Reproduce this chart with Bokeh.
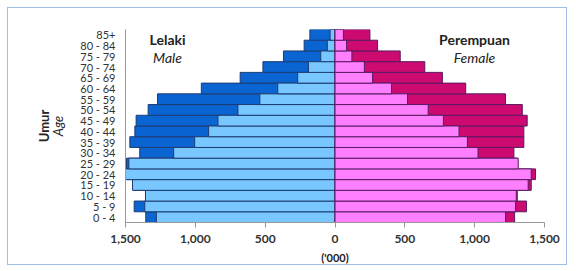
from bokeh.plotting import figure
from bokeh.models import ColumnDataSource, Label, FixedTicker, Range1d, LinearAxis
from bokeh.embed import file_html
from bokeh.resources import INLINE

age_groups = ["0 - 4", "5 - 9", "10 - 14", "15 - 19", "20 - 24", "25 - 29", "30 - 34",
              "35 - 39", "40 - 44", "45 - 49", "50 - 54", "55 - 59", "60 - 64",
              "65 - 69", "70 - 74", "75 - 79", "80 - 84", "85+"]
male_dark = [1355, 1438, 1350, 1440, 1490, 1493, 1398, 1469, 1433, 1424, 1338, 1271,
             957, 679, 516, 369, 221, 180]
male_light = [1279, 1362, 1357, 1450, 1500, 1476, 1155, 1005, 905, 838, 695, 538,
              410, 267, 190, 102, 55, 35]
female_dark = [1286, 1371, 1305, 1405, 1436, 1305, 1281, 1352, 1352, 1376, 1341, 1221,
               936, 769, 643, 467, 305, 250]
female_light = [1221, 1293, 1298, 1383, 1405, 1312, 1024, 948, 888, 776, 667, 519,
                405, 269, 210, 121, 83, 60]
x_ticks = [-1500, -1000, -500, 0, 500, 1000, 1500]
x_tick_labels = ["1,500", "1,000", "500", "0", "500", "1,000", "1,500"]

idx = list(range(len(age_groups)))
src = ColumnDataSource(dict(
    y=idx,
    md=[-v for v in male_dark], ml=[-v for v in male_light],
    fd=female_dark, fl=female_light,
    zero=[0] * len(idx),
))

p = figure(width=560, height=258, output_backend="svg", toolbar_location=None,
           x_range=Range1d(-1500, 1500), y_range=Range1d(-0.5, 17.5),
           min_border_left=117, min_border_right=24, min_border_top=21,
           min_border_bottom=44)
p.styles = {"border": "1px solid #9fbde6", "margin": "7px 0 0 7px"}
p.outline_line_color = None
p.xgrid.visible = False
p.ygrid.visible = False

BLUE_LINE = "#1d3c72"
PINK_LINE = "#5a1a62"
p.hbar(y="y", left="md", right="zero", height=1.0, source=src,
       fill_color="#0a64d2", line_color=BLUE_LINE, line_width=1)
p.hbar(y="y", left="ml", right="zero", height=1.0, source=src,
       fill_color="#78c8ff", line_color=BLUE_LINE, line_width=1)
p.hbar(y="y", left="zero", right="fd", height=1.0, source=src,
       fill_color="#cc0a70", line_color=PINK_LINE, line_width=1)
p.hbar(y="y", left="zero", right="fl", height=1.0, source=src,
       fill_color="#ff80ff", line_color=PINK_LINE, line_width=1)

FONT = "Lato"
p.xaxis.ticker = FixedTicker(ticks=x_ticks)
p.xaxis.major_label_overrides = {t: l for t, l in zip(x_ticks, x_tick_labels)}
p.xaxis.major_label_text_font = FONT
p.xaxis.major_label_text_font_style = "bold"
p.xaxis.major_label_text_font_size = "12px"
p.xaxis.major_label_text_color = "#333333"
p.xaxis.major_label_standoff = 7
p.xaxis.axis_line_color = "#999999"
p.xaxis.major_tick_line_color = "#999999"
p.xaxis.major_tick_out = 5
p.xaxis.major_tick_in = 0
p.xaxis.minor_tick_line_color = None
p.xaxis.axis_label = "('000)"
p.xaxis.axis_label_text_font = FONT
p.xaxis.axis_label_text_font_style = "bold"
p.xaxis.axis_label_text_font_size = "11px"
p.xaxis.axis_label_text_color = "#222222"
p.xaxis.axis_label_standoff = 5

p.yaxis.ticker = FixedTicker(ticks=idx)
p.yaxis.major_label_overrides = {i: g for i, g in zip(idx, age_groups)}
p.yaxis.major_label_text_font = FONT
p.yaxis.major_label_text_font_size = "11px"
p.yaxis.major_label_text_color = "#333333"
p.yaxis.axis_line_color = "#999999"
p.yaxis.major_tick_line_color = None
p.yaxis.minor_tick_line_color = None
p.yaxis.major_tick_out = 0
p.yaxis.major_label_standoff = 10
p.yaxis.axis_label = "Age"
p.yaxis.axis_label_text_font = FONT
p.yaxis.axis_label_text_font_style = "italic"
p.yaxis.axis_label_text_font_size = "13px"
p.yaxis.axis_label_text_color = "#222222"
p.yaxis.axis_label_standoff = 11

outer = LinearAxis(ticker=FixedTicker(ticks=[]), axis_line_color=None,
                   major_tick_line_color=None, minor_tick_line_color=None,
                   major_tick_out=0, major_tick_in=0, major_label_text_font_size="0px",
                   major_label_standoff=0,
                   axis_label="Umur", axis_label_text_font=FONT,
                   axis_label_text_font_style="bold", axis_label_text_font_size="13px",
                   axis_label_text_color="#222222", axis_label_standoff=-4)
p.add_layout(outer, "left")

def lab(x, y, t, style, size="14px"):
    p.add_layout(Label(x=x, y=y, text=t, text_font=FONT, text_font_style=style,
                       text_font_size=size, text_color="#222222", text_align="center",
                       text_baseline="middle"))

lab(-1199, 16.57, "Lelaki", "bold")
lab(-1199, 14.89, "Male", "italic")
lab(999, 16.57, "Perempuan", "bold")
lab(999, 14.89, "Female", "italic")

open("out.html", "w").write(file_html(p, INLINE))
